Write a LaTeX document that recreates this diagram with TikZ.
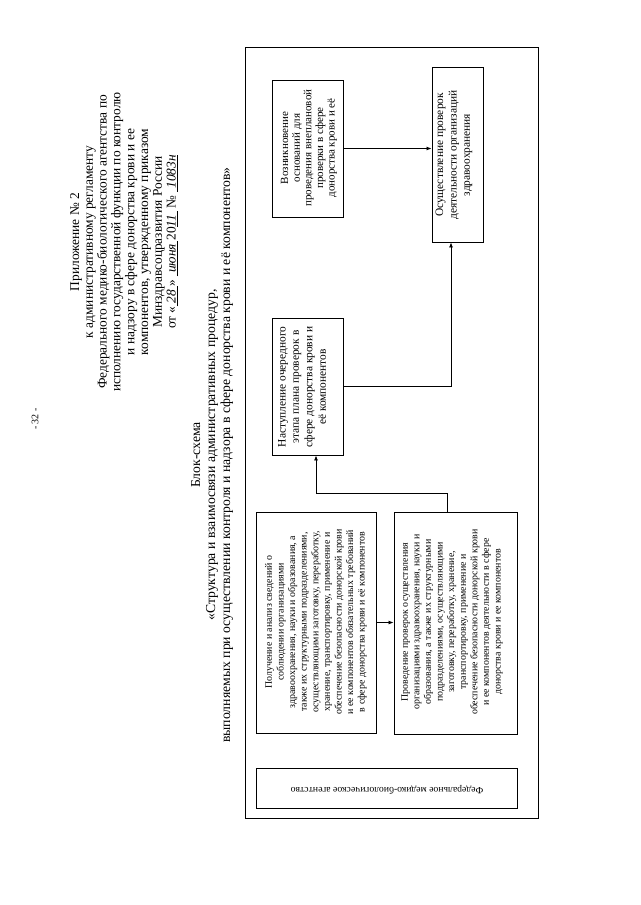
\documentclass[tikz,border=0pt]{standalone}
\usepackage{fontspec}
\setmainfont{Liberation Serif}
\usetikzlibrary{arrows.meta}
\begin{document}
\begin{tikzpicture}[x=1pt,y=1pt,
  box/.style={draw, line width=0.9pt, inner sep=0pt, fill=none},
  frm/.style={draw, line width=1pt},
  arr/.style={line width=0.8pt, -{Latex[length=5pt,width=4pt]}},
  rtxt/.style={rotate=90, align=center, inner sep=0pt},
  smalltxt/.style={rtxt, font=\fontsize{9.9}{11.6}\selectfont},
  midtxt/.style={rtxt, font=\fontsize{11}{11.6}\selectfont},
  bigtxt/.style={rtxt, font=\fontsize{11.4}{13.4}\selectfont}
]
\useasboundingbox (0,0) rectangle (640,-905);
\fill[white] (0,0) rectangle (640,-905);

% page number
\node[rtxt, font=\fontsize{10}{12}\selectfont] (pnum) at (35,-419) {- 32 -};

% appendix heading
\node[rtxt, font=\fontsize{13.4}{13.8}\selectfont] (appx) at (124,-242) {%
Приложение № 2\\
к административному регламенту\\
Федерального медико-биологического агентства по\\
исполнению государственной функции по контролю\\
и надзору в сфере донорства крови и ее\\
компонентов, утвержденному приказом\\
Минздравсоцразвития России\\
от «\underline{\textit{~28~}}» \underline{\textit{~июня~}}20\underline{\textit{11~}} № \underline{\textit{~1083н}}};

% title
\node[rtxt, font=\fontsize{13.7}{15}\selectfont] (title) at (212,-455) {%
Блок-схема\\
«Структура и взаимосвязи административных процедур,\\
выполняемых при осуществлении контроля и надзора в сфере донорства крови и её компонентов»};

% outer frame
\node[frm, minimum width=293pt, minimum height=771pt, inner sep=0pt] (frame) at (391.5,-432.5) {};

% boxes
\node[box, minimum width=71pt, minimum height=137pt] (vozn) at (307.5,-148.5) {};
\node[box, minimum width=51pt, minimum height=175pt] (osush) at (457.5,-154.5) {};
\node[box, minimum width=71pt, minimum height=137pt] (nast) at (307.5,-386.5) {};
\node[box, minimum width=120pt, minimum height=221pt] (poluch) at (316,-622.5) {};
\node[box, minimum width=123pt, minimum height=222pt] (prov) at (455.5,-623) {};
\node[box, minimum width=261pt, minimum height=40pt] (fmba) at (386.5,-788) {};

% texts
\node[midtxt] (tvozn) at (309,-148) {Возникновение\\ оснований для\\ проведения внеплановой\\ проверки в сфере\\ донорства крови и её};
\node[bigtxt] (tosush) at (454,-155) {Осуществление проверок\\ деятельности организаций\\ здравоохранения};
\node[bigtxt] (tnast) at (302,-387) {Наступление очередного\\ этапа плана проверок в\\ сфере донорства крови и\\ её компонентов};
\node[smalltxt] (tpoluch) at (316,-622) {Получение и анализ сведений о\\ соблюдении организациями\\ здравоохранения, науки и образования, а\\ также их структурными подразделениями,\\ осуществляющими заготовку, переработку,\\ хранение, транспортировку, применение и\\ обеспечение безопасности донорской крови\\ и ее компонентов обязательных требований\\ в сфере донорства крови и её компонентов};
\node[smalltxt] (tprov) at (452,-622) {Проведение проверок осуществления\\ организациями здравоохранения, науки и\\ образования, а также их структурными\\ подразделениями, осуществляющими\\ заготовку, переработку, хранение,\\ транспортировку, применение и\\ обеспечение безопасности донорской крови\\ и ее компонентов деятельности в сфере\\ донорства крови и ее компонентов};
\node[rotate=180, inner sep=0pt, font=\fontsize{9.7}{11}\selectfont] (tfmba) at (387,-790) {Федеральное медико-биологическое агентство};

% connectors
\draw[arr] (vozn.east) -- (vozn.east -| osush.west);
\draw[arr] (nast.east) -| ([xshift=-6.5pt]osush.south);
\draw[arr] ([xshift=-8pt]prov.north) -- ++(0,18) -| ([xshift=8.5pt]nast.south);
\draw[arr] (poluch.east) -- (poluch.east -| prov.west);
\end{tikzpicture}
\end{document}
